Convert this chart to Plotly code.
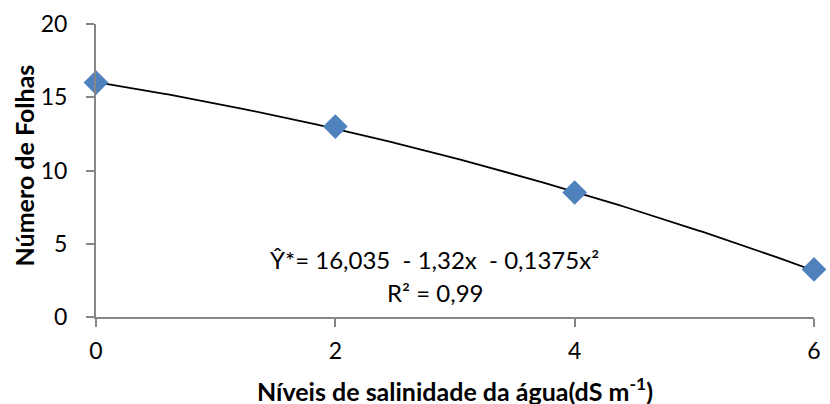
import numpy as np
import plotly.graph_objects as go

# Data
salinity = [0, 2, 4, 6]
leaves = [16.0, 13.0, 8.5, 3.25]
# Fitted trendline coefficients (c0 + c1*x + c2*x^2), as printed on the chart
trend_coef = [16.035, -1.32, -0.1375]
x_ticks = [0, 2, 4, 6]
y_ticks = [0, 5, 10, 15, 20]

xs = np.linspace(min(salinity), max(salinity), 200)
ys = trend_coef[0] + trend_coef[1] * xs + trend_coef[2] * xs ** 2

FONT = "Lato, 'Open Sans', sans-serif"
fig = go.Figure()
fig.add_trace(go.Scatter(x=xs, y=ys, mode="lines",
                         line=dict(color="black", width=1.8),
                         showlegend=False, hoverinfo="skip", cliponaxis=False))
fig.add_trace(go.Scatter(x=salinity, y=leaves, mode="markers",
                         marker=dict(symbol="diamond", size=19, color="#4F81BD",
                                     line=dict(width=0)),
                         showlegend=False, cliponaxis=False))

fig.add_annotation(x=2.83, y=3.9, xref="x", yref="y",
                   text="Ŷ*= 16,035  - 1,32x  - 0,1375x²",
                   showarrow=False, font=dict(family=FONT, size=24, color="black"))
fig.add_annotation(x=2.83, y=1.65, xref="x", yref="y",
                   text="R² = 0,99",
                   showarrow=False, font=dict(family=FONT, size=24, color="black"))

# Axis titles
fig.add_annotation(x=0.5, y=0, xref="paper", yref="paper", yshift=-72,
                   xanchor="center", yanchor="middle", showarrow=False,
                   text="<b>Níveis de salinidade da água(dS m<sup>-1</sup>)</b>",
                   font=dict(family=FONT, size=25, color="black"))
fig.add_annotation(x=0, y=0.5, xref="paper", yref="paper", xshift=-73, yshift=5,
                   xanchor="center", yanchor="middle", showarrow=False,
                   textangle=-90,
                   text="<b>Número de Folhas</b>",
                   font=dict(family=FONT, size=25, color="black"))

fig.update_layout(
    width=830, height=404,
    margin=dict(l=96, r=9, t=23, b=87),
    paper_bgcolor="white", plot_bgcolor="white",
    font=dict(family=FONT, size=23, color="black"),
    xaxis=dict(range=[0, 6], tickvals=x_ticks, showgrid=False, zeroline=False,
               showline=True, linecolor="#868686", linewidth=2,
               ticks="outside", ticklen=8, tickcolor="#868686", tickwidth=2,
               tickfont=dict(size=23), ticklabelstandoff=4),
    yaxis=dict(range=[0, 20], tickvals=y_ticks, showgrid=False, zeroline=False,
               showline=True, linecolor="#868686", linewidth=2,
               ticks="outside", ticklen=8, tickcolor="#868686", tickwidth=2,
               tickfont=dict(size=23), ticklabelstandoff=14),
)
fig.write_html("out.html")
